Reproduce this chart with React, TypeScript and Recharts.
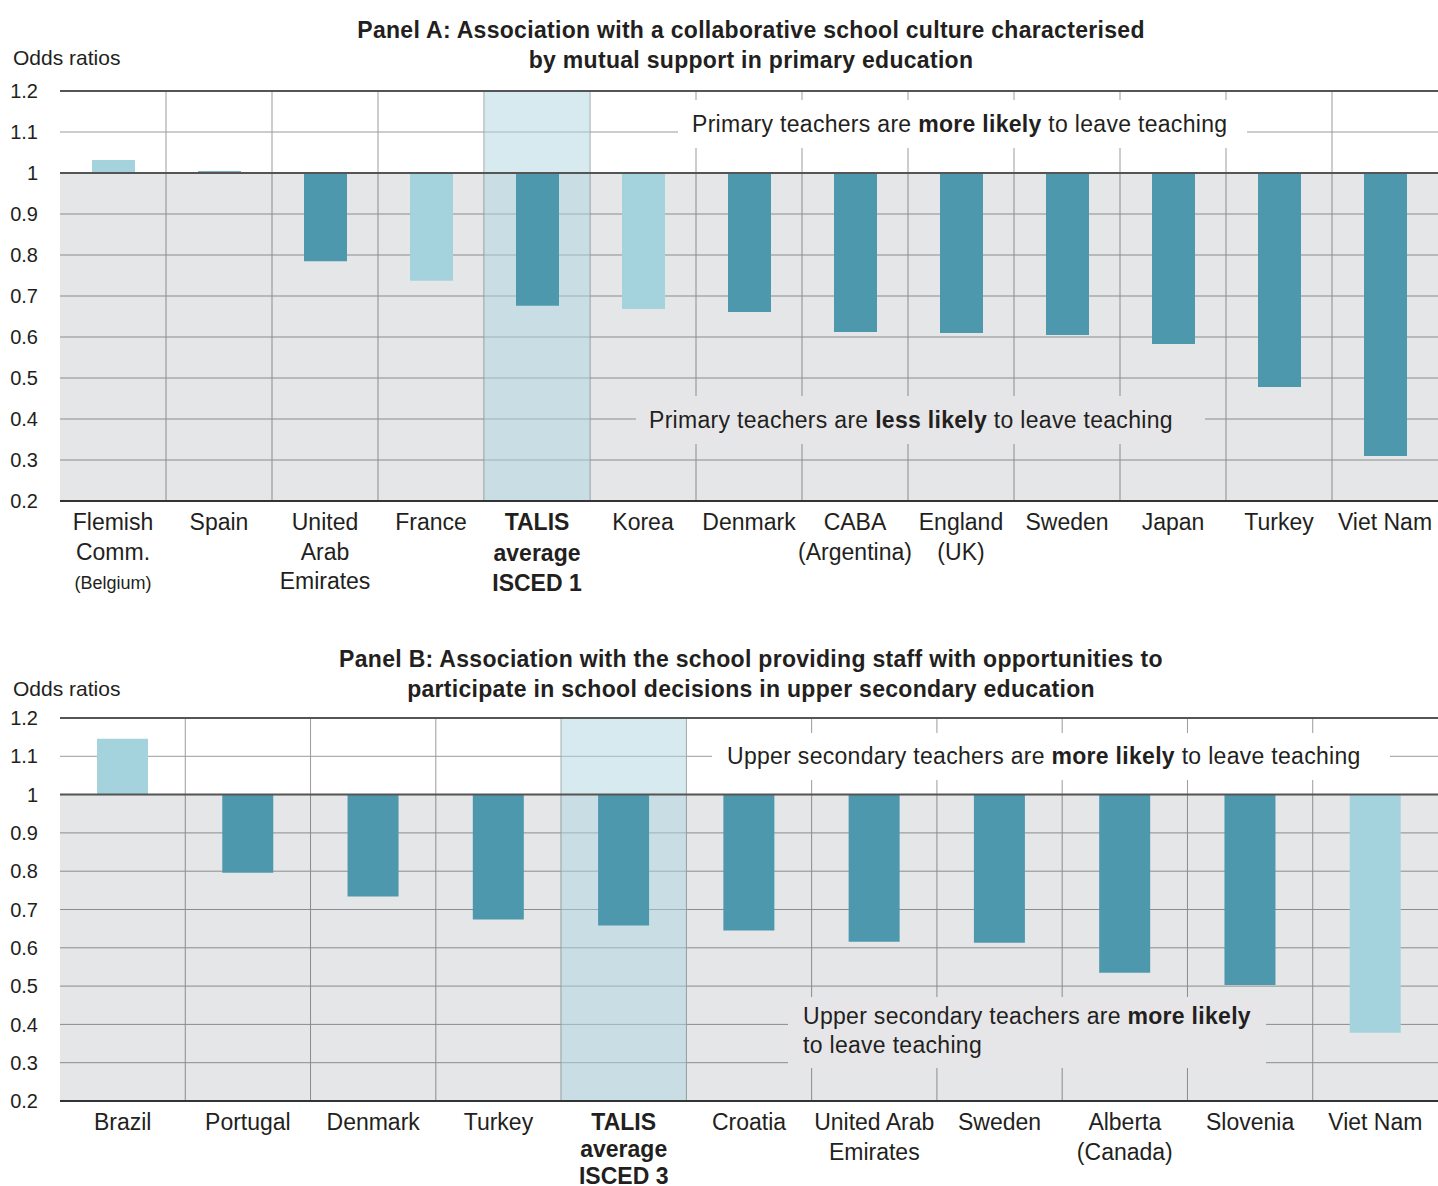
import React from "react";
import { Bar, BarChart, CartesianGrid, Cell, ReferenceArea, ReferenceLine, XAxis, YAxis } from "recharts";

const FONT = '"Liberation Sans", Arial, Helvetica, sans-serif';
const TEXT = "#231f20";
const DARK = "#4e98ae";
const LIGHT = "#a4d3de";
const GREY_BOX = "rgb(230,230,232)";

const yTicks = [0.2, 0.3, 0.4, 0.5, 0.6, 0.7, 0.8, 0.9, 1, 1.1, 1.2];

// Panel A: primary (ISCED 1). "|" splits label lines.
const categoriesA = [
  "Flemish|Comm.|(Belgium)",
  "Spain",
  "United|Arab|Emirates",
  "France",
  "TALIS|average|ISCED 1",
  "Korea",
  "Denmark",
  "CABA|(Argentina)",
  "England|(UK)",
  "Sweden",
  "Japan",
  "Turkey",
  "Viet Nam",
];
const oddsA = [1.032, 1.004, 0.785, 0.737, 0.676, 0.668, 0.661, 0.612, 0.61, 0.605, 0.583, 0.478, 0.31];
const significantA = [false, true, true, false, true, false, true, true, true, true, true, true, true];

// Panel B: upper secondary (ISCED 3).
const categoriesB = [
  "Brazil",
  "Portugal",
  "Denmark",
  "Turkey",
  "TALIS|average|ISCED 3",
  "Croatia",
  "United Arab|Emirates",
  "Sweden",
  "Alberta|(Canada)",
  "Slovenia",
  "Viet Nam",
];
const oddsB = [1.146, 0.796, 0.734, 0.674, 0.658, 0.645, 0.616, 0.613, 0.535, 0.503, 0.378];
const significantB = [false, true, true, true, true, true, true, true, true, true, false];

function CategoryTick(props: any) {
  const { x, y, payload, boldGap } = props;
  const lines = String(payload.value).split("|");
  const bold = lines[0] === "TALIS";
  return (
    <g>
      {lines.map((line, i) => {
        const small = line === "(Belgium)";
        return (
          <text
            key={i}
            x={x}
            y={y + 29 + i * (bold ? boldGap : 29.5)}
            textAnchor="middle"
            fontSize={small ? 18 : 23}
            fontWeight={bold ? 700 : 400}
            fill={TEXT}
            fontFamily={FONT}
          >
            {line}
          </text>
        );
      })}
    </g>
  );
}

type PanelProps = {
  categories: string[];
  odds: number[];
  significant: boolean[];
  height: number;
  marginTop: number;
  axisHeight: number;
  barSize: number;
  boldGap: number;
};

function Panel({ categories, odds, significant, height, marginTop, axisHeight, barSize, boldGap }: PanelProps) {
  const data = categories.map((name, i) => ({
    name,
    range: [Math.min(1, odds[i]), Math.max(1, odds[i])],
  }));
  const avg = categories.find((c) => c.startsWith("TALIS"));
  const n = categories.length;

  return (
    <BarChart width={1438} height={height} data={data} margin={{ top: marginTop, right: 0, bottom: 0, left: 0 }}>
      <ReferenceArea y1={0.2} y2={1} fill="#000814" fillOpacity={0.1} stroke="none" />
      <ReferenceArea x1={avg} x2={avg} y1={0.2} y2={1.2} fill="#aed5e1" fillOpacity={0.5} stroke="none" />
      <CartesianGrid
        stroke="#9b9b9b"
        strokeWidth={1}
        verticalCoordinatesGenerator={({ offset }: any) =>
          Array.from({ length: n - 1 }, (_, i) => offset.left + ((i + 1) * offset.width) / n)
        }
      />
      <XAxis
        dataKey="name"
        interval={0}
        height={axisHeight}
        tickLine={false}
        tickSize={0}
        tickMargin={0}
        axisLine={{ stroke: "#333", strokeWidth: 2 }}
        tick={<CategoryTick boldGap={boldGap} />}
      />
      <YAxis
        type="number"
        domain={[0.2, 1.2]}
        ticks={yTicks}
        width={60}
        axisLine={false}
        tickLine={false}
        tickSize={0}
        tickMargin={22}
        allowDataOverflow
        tickFormatter={(v: number) => (v === 1 ? "1" : v.toFixed(1))}
        tick={{ fill: TEXT, fontSize: 20, fontFamily: FONT }}
      />
      <ReferenceLine y={1.2} stroke="#555" strokeWidth={2} />
      <ReferenceLine y={1} stroke="#555" strokeWidth={2} />
      <Bar dataKey="range" barSize={barSize} isAnimationActive={false}>
        {data.map((_, i) => (
          <Cell key={i} fill={significant[i] ? DARK : LIGHT} />
        ))}
      </Bar>
    </BarChart>
  );
}

const abs = (left: number, top: number, extra: React.CSSProperties = {}): React.CSSProperties => ({
  position: "absolute",
  left,
  top,
  fontFamily: FONT,
  color: TEXT,
  ...extra,
});

const titleStyle: React.CSSProperties = { width: 1200, textAlign: "center", fontWeight: 700, fontSize: 23, letterSpacing: 0.3 };
const noteStyle: React.CSSProperties = { fontSize: 23, letterSpacing: 0.3, whiteSpace: "nowrap", boxSizing: "border-box" };

export default function App() {
  return (
    <div style={{ position: "absolute", left: 0, top: 0, width: 1438, height: 1186, overflow: "hidden", background: "#fff" }}>
      <div style={{ position: "absolute", left: 0, top: 0 }}>
        <Panel
          categories={categoriesA}
          odds={oddsA}
          significant={significantA}
          height={610}
          marginTop={91}
          axisHeight={109}
          barSize={43}
          boldGap={30.5}
        />
      </div>
      <div style={{ position: "absolute", left: 0, top: 630 }}>
        <Panel
          categories={categoriesB}
          odds={oddsB}
          significant={significantB}
          height={556}
          marginTop={88}
          axisHeight={85}
          barSize={51}
          boldGap={27}
        />
      </div>

      <div style={abs(151, 15, { ...titleStyle, lineHeight: "30px" })}>
        Panel A: Association with a collaborative school culture characterised
        <br />
        by mutual support in primary education
      </div>
      <div style={abs(13, 46, { fontSize: 21, lineHeight: "24px" })}>Odds ratios</div>

      <div style={abs(678, 100, { ...noteStyle, width: 569, height: 48, paddingLeft: 14, background: "#fff", lineHeight: "48px" })}>
        Primary teachers are <b>more likely</b> to leave teaching
      </div>
      <div style={abs(636, 396, { ...noteStyle, width: 569, height: 48, paddingLeft: 13, background: GREY_BOX, lineHeight: "48px" })}>
        Primary teachers are <b>less likely</b> to leave teaching
      </div>

      <div style={abs(151, 645, { ...titleStyle, lineHeight: "29.5px" })}>
        Panel B: Association with the school providing staff with opportunities to
        <br />
        participate in school decisions in upper secondary education
      </div>
      <div style={abs(13, 677, { fontSize: 21, lineHeight: "24px" })}>Odds ratios</div>

      <div style={abs(712, 733, { ...noteStyle, width: 678, height: 47, paddingLeft: 15, background: "#fff", lineHeight: "47px" })}>
        Upper secondary teachers are <b>more likely</b> to leave teaching
      </div>
      <div style={abs(788, 997, { ...noteStyle, width: 478, height: 71, paddingLeft: 15, paddingTop: 5, background: GREY_BOX, lineHeight: "29px" })}>
        Upper secondary teachers are <b>more likely</b>
        <br />
        to leave teaching
      </div>
    </div>
  );
}
